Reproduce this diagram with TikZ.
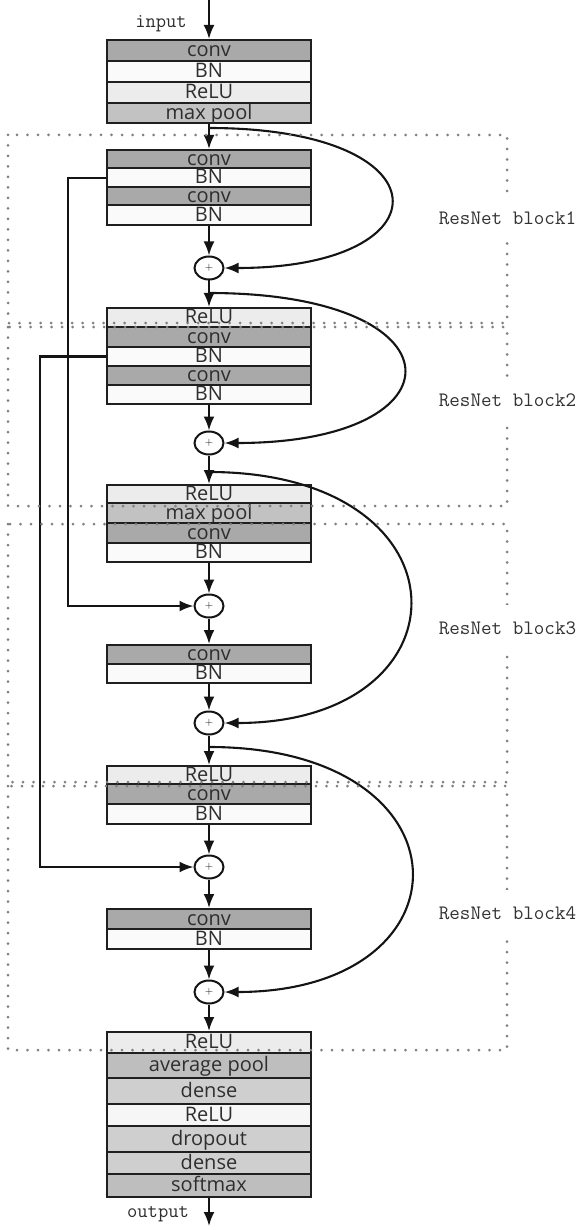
\documentclass[tikz,border=0pt]{standalone}
\usepackage{fontspec}
\newfontfamily\rowfamily{Open Sans}
\usetikzlibrary{arrows.meta,shapes.geometric}

% fills of the layer rows
\definecolor{cconv}{HTML}{A9A9A9}
\definecolor{cbn}{HTML}{FAFAFA}
\definecolor{crelu}{HTML}{ECECEC}
\definecolor{cpool}{HTML}{C2C2C2}
\definecolor{cdense}{HTML}{CFCFCF}
\definecolor{csoft}{HTML}{BEBEBE}

\begin{document}
\begin{tikzpicture}[x=1pt,y=-1pt,
  layer/.style={draw=black!88, line width=2pt, minimum width=204pt,
    inner sep=0pt, font=\rowfamily\fontsize{20}{21}\selectfont,
    text=black!82, text height=12.5pt, text depth=0pt},
  conn/.style={line width=2.1pt, draw=black!92,
    -{Latex[length=14pt,width=11pt]}},
  sum/.style={ellipse, draw=black!92, line width=2pt, minimum width=29pt,
    minimum height=23pt, inner sep=0pt, fill=white,
    font=\fontsize{11}{11}\selectfont},
  frame/.style={draw=black!50, line width=3pt,
    dash pattern=on 0pt off 10.5pt, line cap=round},
  blocktag/.style={fill=white, text=black!80,
    font=\ttfamily\fontsize{20.5}{22}\selectfont, inner xsep=1pt,
    minimum height=46pt},
  io/.style={font=\ttfamily\fontsize{20}{22}\selectfont, text=black!82}]

\useasboundingbox (0,0) rectangle (584,1230);

% ---- stem
\node[layer,fill=cconv,minimum height=21.5pt] (t1) at (209,50.75) {conv};
\node[layer,fill=cbn,minimum height=20.5pt]   (t2) at (209,71.75) {BN};
\node[layer,fill=crelu,minimum height=21pt]   (t3) at (209,92.5)  {ReLU};
\node[layer,fill=cpool,minimum height=20pt]   (t4) at (209,113)   {max pool};

% ---- block 1
\node[layer,fill=cconv,minimum height=18.5pt] (a1) at (209,159.25) {conv};
\node[layer,fill=cbn,minimum height=18.5pt]   (a2) at (209,177.75) {BN};
\node[layer,fill=cconv,minimum height=18.5pt] (a3) at (209,196.25) {conv};
\node[layer,fill=cbn,minimum height=19.5pt]   (a4) at (209,215.25) {BN};
\node[sum] (p1) at (209,268) {+};

% ---- block 2
\node[layer,fill=crelu,minimum height=18.5pt] (b1) at (209,317.25) {ReLU};
\node[layer,fill=cconv,minimum height=20.5pt] (b2) at (209,336.75) {conv};
\node[layer,fill=cbn,minimum height=19pt]     (b3) at (209,356.5)  {BN};
\node[layer,fill=cconv,minimum height=19pt]   (b4) at (209,375.5)  {conv};
\node[layer,fill=cbn,minimum height=18.5pt]   (b5) at (209,394.25) {BN};
\node[sum] (p2) at (209,443) {+};

% ---- block 3
\node[layer,fill=crelu,minimum height=18pt]   (c1) at (209,494)   {ReLU};
\node[layer,fill=cpool,minimum height=20pt]   (c2) at (209,513)   {max pool};
\node[layer,fill=cconv,minimum height=20pt]   (c3) at (209,533)   {conv};
\node[layer,fill=cbn,minimum height=19pt]     (c4) at (209,552.5) {BN};
\node[sum] (p3) at (209,606) {+};
\node[layer,fill=cconv,minimum height=18.5pt] (d1) at (209,654.25) {conv};
\node[layer,fill=cbn,minimum height=19.5pt]   (d2) at (209,673.25) {BN};
\node[sum] (p4) at (209,723) {+};

% ---- block 4
\node[layer,fill=crelu,minimum height=18pt]   (e1) at (209,775)    {ReLU};
\node[layer,fill=cconv,minimum height=19.5pt] (e2) at (209,793.75) {conv};
\node[layer,fill=cbn,minimum height=20.5pt]   (e3) at (209,813.75) {BN};
\node[sum] (p5) at (209,867) {+};
\node[layer,fill=cconv,minimum height=20pt]   (f1) at (209,919) {conv};
\node[layer,fill=cbn,minimum height=20pt]     (f2) at (209,939) {BN};
\node[sum] (p6) at (209,992) {+};

% ---- head
\node[layer,fill=crelu,minimum height=20.5pt] (g1) at (209,1042.25) {ReLU};
\node[layer,fill=csoft,minimum height=25pt]   (g2) at (209,1065)    {average pool};
\node[layer,fill=cdense,minimum height=26.5pt](g3) at (209,1090.75) {dense};
\node[layer,fill=cbn!70!crelu,minimum height=22pt] (g4) at (209,1115) {ReLU};
\node[layer,fill=cdense,minimum height=25.5pt](g5) at (209,1138.75) {dropout};
\node[layer,fill=cdense,minimum height=22.5pt](g6) at (209,1162.75) {dense};
\node[layer,fill=csoft,minimum height=23pt]   (g7) at (209,1185.5)  {softmax};

% ---- input / output
\coordinate (in)  at (209,0);
\coordinate (out) at (209,1226);
\node[io] (inlbl)  at (161,24)   {input};
\node[io] (outlbl) at (158,1214) {output};
\draw[conn] (in) -- (t1.north);
\draw[conn] (g7.south) -- (out);

% ---- main flow
\draw[conn] (t4.south) -- (a1.north);
\draw[conn] (a4.south) -- (p1.north);
\draw[conn] (p1.south) -- (b1.north);
\draw[conn] (b5.south) -- (p2.north);
\draw[conn] (p2.south) -- (c1.north);
\draw[conn] (c4.south) -- (p3.north);
\draw[conn] (p3.south) -- (d1.north);
\draw[conn] (d2.south) -- (p4.north);
\draw[conn] (p4.south) -- (e1.north);
\draw[conn] (e3.south) -- (p5.north);
\draw[conn] (p5.south) -- (f1.north);
\draw[conn] (f2.south) -- (p6.north);
\draw[conn] (p6.south) -- (g1.north);

% ---- identity shortcuts (right)
\coordinate (s1) at (209,128);
\coordinate (s2) at (209,293);
\coordinate (s3) at (209,472);
\coordinate (s4) at (209,747);
\draw[conn] (s1) .. controls (449,128) and (449,268) .. (p1.east);
\draw[conn] (s2) .. controls (466,293) and (466,443) .. (p2.east);
\draw[conn] (s3) .. controls (474,472) and (474,723) .. (p4.east);
\draw[conn] (s4) .. controls (476,747) and (476,992) .. (p6.east);

% ---- long shortcuts (left)
\draw[conn] (a2.west) -- ++(-38,0) |- (p3.west);
\draw[conn] (b3.west) -- ++(-66,0) |- (p5.west);

% ---- block frames
\draw[frame] (8,135) rectangle (507,323);
\draw[frame] (8,327) rectangle (507,506);
\draw[frame] (8,524) rectangle (507,782);
\draw[frame] (8,786) rectangle (507,1050);

\node[blocktag] (L1) at (507.5,218) {ResNet block1};
\node[blocktag] (L2) at (507.5,400) {ResNet block2};
\node[blocktag] (L3) at (507.5,628) {ResNet block3};
\node[blocktag] (L4) at (507.5,913) {ResNet block4};
\end{tikzpicture}
\end{document}
